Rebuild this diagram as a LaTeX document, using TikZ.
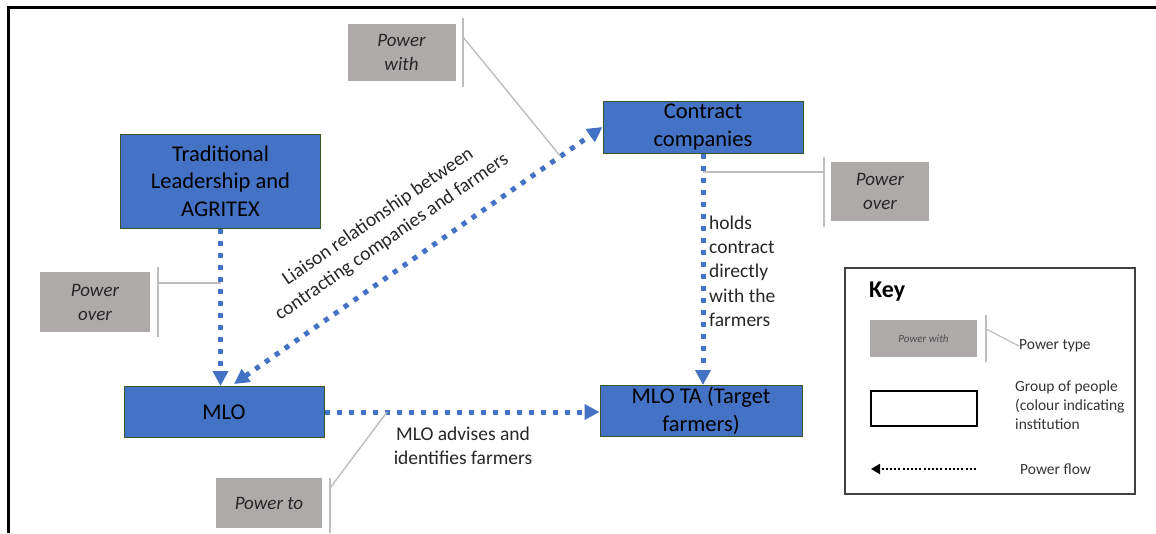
\documentclass[tikz,border=0pt]{standalone}
\usepackage{fontspec}
\setmainfont{Carlito}
\usetikzlibrary{arrows.meta}

\definecolor{blueA}{RGB}{68,114,196}
\definecolor{grpBorder}{RGB}{56,87,35}
\definecolor{ptGray}{RGB}{174,170,170}
\definecolor{linkGray}{RGB}{190,190,190}
\definecolor{keyBorder}{RGB}{64,64,64}

\newcommand{\grpfont}{\fontsize{22.5}{27.5}\selectfont}
\newcommand{\ptfont}{\fontsize{19}{24}\selectfont\itshape}
\newcommand{\lblfont}{\fontsize{19.5}{24.5}\selectfont}
\newcommand{\keyfont}{\fontsize{15.5}{18.8}\selectfont}

\tikzset{
  group/.style={draw=grpBorder, fill=blueA, line width=1pt, minimum width=200pt,
    inner sep=0pt, align=center, font=\grpfont, text=black},
  ptype/.style={fill=ptGray, inner sep=0pt, align=center, font=\ptfont, text=black!85},
  glink/.style={draw=linkGray, line width=1.4pt},
  flow/.style={draw=blueA, line width=5pt, dash pattern=on 5pt off 7pt,
    -{Triangle[length=15pt,width=15pt]}},
  flowboth/.style={draw=blueA, line width=5pt, dash pattern=on 5pt off 7pt,
    {Triangle[length=15pt,width=15pt]}-{Triangle[length=15pt,width=15pt]}},
  keyflow/.style={draw=black, line width=2pt, dash pattern=on 2pt off 2.2pt,
    -{Triangle[length=9pt,width=10pt]}},
  lbl/.style={inner sep=0pt, font=\lblfont, text=black!85},
  keylbl/.style={inner sep=0pt, font=\keyfont, text=black!80, anchor=west},
}

\begin{document}
\begin{tikzpicture}[x=1pt,y=-1pt]
\useasboundingbox (0,0) rectangle (1156,533);

% page frame (top and left edges)
\draw[line width=3pt] (8,533) -- (8,7) -- (1156,7);

% groups of people
\node[group, minimum height=94pt] (trad) at (220.5,181) {Traditional\\Leadership and\\AGRITEX};
\node[group, minimum height=52pt] (contract) at (703,127) {Contract\\companies};
\node[group, minimum height=51pt] (mlo) at (224,412) {MLO};
\node[group, minimum width=202pt, minimum height=51pt] (mlota) at (701,411) {MLO TA (Target\\farmers)};

% power flows
\coordinate (liaisonEnd) at (234,384);
\draw[flow] (trad.south) -- (trad.south |- mlo.north);
\draw[flowboth] (liaisonEnd) -- (contract.west);
\draw[flow] (contract.south) -- (contract.south |- mlota.north);
\draw[flow] (mlo.east) -- (mlo.east -| mlota.west);

% flow labels
\node[lbl, rotate=34.7, align=center, font=\fontsize{19.5}{24.5}\selectfont] (liaison) at (385,227)
  {Liaison relationship between\\contracting companies and farmers};
\node[lbl, align=left, anchor=west, font=\fontsize{19.5}{24.3}\selectfont] (holds) at (709,271)
  {holds\\contract\\directly\\with the\\farmers};
\node[lbl, align=center] (advises) at (463,446) {MLO advises and\\identifies farmers};

% power types
\node[ptype, minimum width=108pt, minimum height=57pt] (pwith) at (401.5,52.5) {Power\\with};
\node[ptype, minimum width=98pt, minimum height=59pt] (poverR) at (880,191) {Power\\over};
\node[ptype, minimum width=110pt, minimum height=60pt] (poverL) at (95,302) {Power\\over};
\node[ptype, minimum width=106pt, minimum height=50pt] (pto) at (269,503) {Power to};

% brackets tying each power type to its flow
\path (liaisonEnd) -- (contract.west) coordinate[pos=0.886] (pwTouch);
\coordinate (pwTop) at (463,18);
\coordinate (pwBot) at (463,87);
\coordinate (pwJoin) at (463,37);
\draw[glink] (pwTop) -- (pwBot);
\draw[glink] (pwJoin) -- (pwTouch);

\coordinate (porTop) at (824,157);
\coordinate (porBot) at (824,227);
\coordinate (porJoin) at (824,172);
\draw[glink] (porTop) -- (porBot);
\draw[glink] (porJoin) -- (contract.south |- porJoin);

\coordinate (polTop) at (158,267);
\coordinate (polBot) at (158,337);
\coordinate (polJoin) at (158,283);
\draw[glink] (polTop) -- (polBot);
\draw[glink] (polJoin) -- (trad.south |- polJoin);

\coordinate (ptTop) at (330,478);
\coordinate (ptBot) at (330,533);
\coordinate (ptJoin) at (330,488);
\coordinate (ptTouch) at (387,412);
\draw[glink] (ptTop) -- (ptBot);
\draw[glink] (ptJoin) -- (ptTouch);

% key
\node[draw=keyBorder, line width=1.6pt, minimum width=290pt, minimum height=226pt,
  inner sep=0pt, anchor=north west] (keybox) at (844,267) {};
\node[inner sep=0pt, anchor=west, font=\fontsize{24}{28}\selectfont\bfseries] (keytitle) at (869,292) {Key};
\node[ptype, minimum width=107pt, minimum height=37pt,
  font=\fontsize{11}{13}\selectfont\itshape, text=black!70] (keypt) at (923.5,338.5) {Power with};
\coordinate (keyTop) at (986,315);
\coordinate (keyBot) at (986,362);
\coordinate (keyJoin) at (986,329);
\node[keylbl] (keyptlabel) at (1019,346) {Power type};
\draw[glink, line width=1.2pt] (keyTop) -- (keyBot);
\draw[glink, line width=1.2pt] (keyJoin) -- (keyptlabel.west);

\node[draw=black, line width=1.5pt, minimum width=106pt, minimum height=35pt,
  inner sep=0pt] (keygrp) at (924,408.5) {};
\node[keylbl, align=left] (keygrplabel) at (1015,405)
  {Group of people\\(colour indicating\\institution};

\coordinate (keyflowA) at (976,469);
\coordinate (keyflowB) at (871,469);
\draw[keyflow] (keyflowA) -- (keyflowB);
\node[keylbl] (keyflowlabel) at (1020,469) {Power flow};
\end{tikzpicture}
\end{document}
